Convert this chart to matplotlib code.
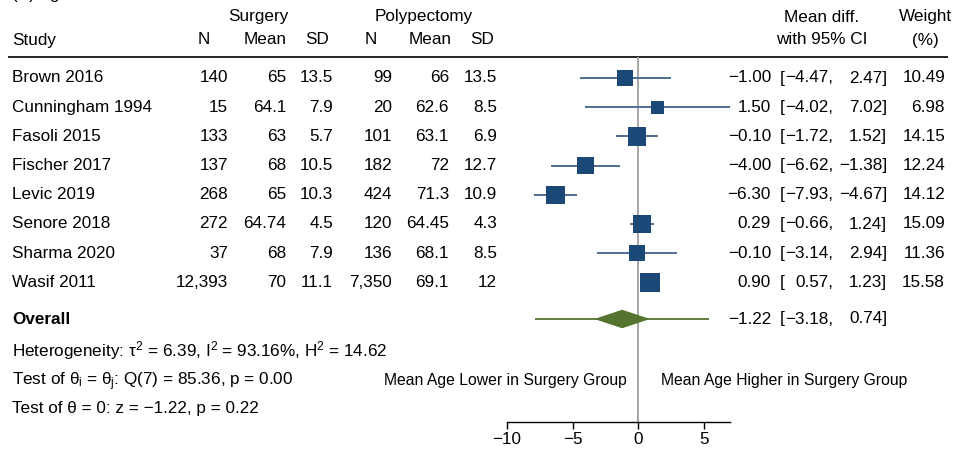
import numpy as np
import matplotlib
matplotlib.use("Agg")
import matplotlib.pyplot as plt
from matplotlib.patches import Polygon

plt.rcParams['font.family'] = ['Liberation Sans', 'DejaVu Sans']
plt.rcParams['mathtext.fontset'] = 'custom'
plt.rcParams['mathtext.rm'] = 'Liberation Sans'
plt.rcParams['mathtext.it'] = 'Liberation Sans'
plt.rcParams['mathtext.bf'] = 'Liberation Sans:bold'
plt.rcParams['axes.unicode_minus'] = True

# study data
studies = ['Brown 2016', 'Cunningham 1994', 'Fasoli 2015', 'Fischer 2017',
           'Levic 2019', 'Senore 2018', 'Sharma 2020', 'Wasif 2011']
n_surg = [140, 15, 133, 137, 268, 272, 37, 12393]
mean_surg = [65, 64.1, 63, 68, 65, 64.74, 68, 70]
sd_surg = [13.5, 7.9, 5.7, 10.5, 10.3, 4.5, 7.9, 11.1]
n_poly = [99, 20, 101, 182, 424, 120, 136, 7350]
mean_poly = [66, 62.6, 63.1, 72, 71.3, 64.45, 68.1, 69.1]
sd_poly = [13.5, 8.5, 6.9, 12.7, 10.9, 4.3, 8.5, 12]
md = [-1.00, 1.50, -0.10, -4.00, -6.30, 0.29, -0.10, 0.90]
ci_lo = [-4.47, -4.02, -1.72, -6.62, -7.93, -0.66, -3.14, 0.57]
ci_hi = [2.47, 7.02, 1.52, -1.38, -4.67, 1.24, 2.94, 1.23]
weight = [10.49, 6.98, 14.15, 12.24, 14.12, 15.09, 11.36, 15.58]

# pooled estimate and prediction interval
ov_md, ov_lo, ov_hi = -1.22, -3.18, 0.74
pi_lo, pi_hi = -7.87, 5.43

xticks = [-10, -5, 0, 5]

W, H = 968, 450
ROW0, ROWH = 78, 29.2          # pixel centre of first row, row spacing


def row(p):
    return (p - ROW0) / ROWH


def fmt(v, spec):
    return format(v, spec).replace('-', '\u2212')


fig = plt.figure(figsize=(W / 100, H / 100), dpi=100)

# full-figure axes for the table text, x in pixels, y in rows
tab = fig.add_axes([0, 0, 1, 1])
tab.set_xlim(0, W)
tab.set_ylim(row(H), row(0))
tab.axis('off')

# forest axes
x0, x1 = 507, 730
ytop, ybot = 57, 422
ax = fig.add_axes([x0 / W, 1 - ybot / H, (x1 - x0) / W, (ybot - ytop) / H])
ax.set_xlim(-10, 7)
ax.set_ylim(row(ybot), row(ytop))
ax.patch.set_alpha(0)
for s in ['top', 'left', 'right']:
    ax.spines[s].set_visible(False)
ax.spines['bottom'].set_linewidth(1.0)
ax.set_yticks([])
ax.set_xticks(xticks)
ax.tick_params(axis='x', length=5, width=1.0, labelsize=12.3, pad=2)

fs = 12.3
tk = dict(fontsize=fs, va='center', color='black')

# title (mostly above the top edge)
tab.text(12, row(2), '(A) Age', fontsize=fs, va='bottom', ha='left')

# headers
tab.text(258, row(17), 'Surgery', ha='center', **tk)
tab.text(424, row(17), 'Polypectomy', ha='center', **tk)
tab.text(822, row(17), 'Mean diff.', ha='center', **tk)
tab.text(925, row(17), 'Weight', ha='center', **tk)
tab.text(12, row(40), 'Study', ha='left', **tk)
tab.text(204, row(40), 'N', ha='center', **tk)
tab.text(287, row(40), 'Mean', ha='right', **tk)
tab.text(329, row(40), 'SD', ha='right', **tk)
tab.text(371, row(40), 'N', ha='center', **tk)
tab.text(452, row(40), 'Mean', ha='right', **tk)
tab.text(494, row(40), 'SD', ha='right', **tk)
tab.text(822, row(40), 'with 95% CI', ha='center', **tk)
tab.text(925, row(40), '(%)', ha='center', **tk)
tab.hlines(row(57), 8, 948, color='black', lw=1.2)

# study rows
col_right = [228, 286, 333, 392, 449, 497]
es_r, br_l, lo_r, hi_r, w_r = 771, 780, 833, 887, 945
for i, name in enumerate(studies):
    tab.text(12, i, name, ha='left', **tk)
    vals = [n_surg[i], mean_surg[i], sd_surg[i], n_poly[i], mean_poly[i], sd_poly[i]]
    for xr, v in zip(col_right, vals):
        tab.text(xr, i, format(v, ',g'), ha='right', **tk)
    tab.text(es_r, i, fmt(md[i], '.2f'), ha='right', **tk)
    tab.text(br_l, i, '[', ha='left', **tk)
    tab.text(lo_r, i, fmt(ci_lo[i], '.2f') + ',', ha='right', **tk)
    tab.text(hi_r, i, fmt(ci_hi[i], '.2f') + ']', ha='right', **tk)
    tab.text(w_r, i, format(weight[i], '.2f'), ha='right', **tk)

# overall row
r_ov = row(319)
tab.text(12, r_ov, 'Overall', ha='left', fontweight='bold', **tk)
tab.text(es_r, r_ov, fmt(ov_md, '.2f'), ha='right', **tk)
tab.text(br_l, r_ov, '[', ha='left', **tk)
tab.text(lo_r, r_ov, fmt(ov_lo, '.2f') + ',', ha='right', **tk)
tab.text(hi_r, r_ov, fmt(ov_hi, '.2f') + ']', ha='right', **tk)

# heterogeneity and tests
tab.text(12, row(351), r'Heterogeneity: $\tau^2$ = 6.39, I$^2$ = 93.16%, H$^2$ = 14.62',
         ha='left', **tk)
tab.text(12, row(382), r'Test of $\theta_i$ = $\theta_j$: Q(7) = 85.36, p = 0.00',
         ha='left', **tk)
tab.text(12, row(408), 'Test of \u03b8 = 0: z = \u22121.22, p = 0.22', ha='left', **tk)

lk = dict(tk, fontsize=11.3)
tab.text(627, row(381), 'Mean Age Lower in Surgery Group', ha='right', **lk)
tab.text(661, row(381), 'Mean Age Higher in Surgery Group', ha='left', **lk)

# zero line
ax.axvline(0, color='#a6a6a6', lw=1.4, zorder=1)

# CIs and weighted squares
rows = np.arange(len(studies))
ax.hlines(rows, ci_lo, ci_hi, color='#4e6e92', lw=1.4, zorder=2)
side_pt = 4.85 * np.sqrt(weight) * 72 / 100
ax.scatter(md, rows, marker='s', s=side_pt ** 2, color='#1b4877',
           edgecolors='none', zorder=3)

# prediction interval and pooled diamond
green = '#55752f'
ax.hlines(r_ov, pi_lo, pi_hi, color=green, lw=1.3, zorder=2)
dh = 8.5 / ROWH
ax.add_patch(Polygon([[ov_lo, r_ov], [ov_md, r_ov - dh], [ov_hi, r_ov],
                      [ov_md, r_ov + dh]], closed=True, color=green, zorder=3))

fig.savefig('out.png', dpi=100)
